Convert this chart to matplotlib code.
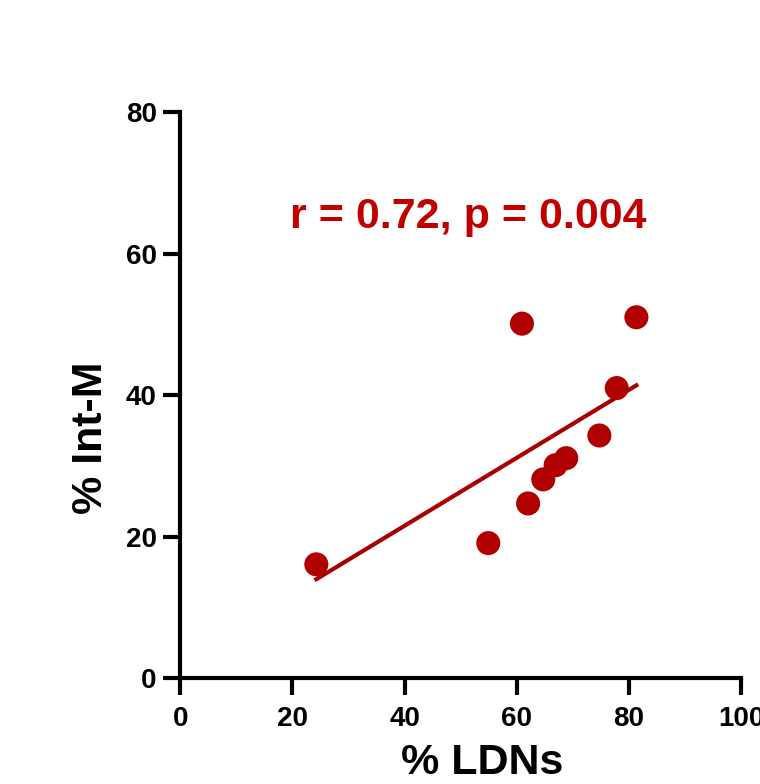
import matplotlib
matplotlib.use("Agg")
import matplotlib.pyplot as plt
import numpy as np

ldns = [24.25, 54.9, 60.9, 62.0, 64.7, 66.9, 68.8, 74.7, 77.8, 81.3]
int_m = [16.1, 19.1, 50.1, 24.7, 28.1, 30.1, 31.1, 34.3, 41.0, 51.0]
fit_slope = 0.48
fit_intercept = 2.36
x_ticks = [0, 20, 40, 60, 80, 100]
y_ticks = [0, 20, 40, 60, 80]
stats_text = "r = 0.72, p = 0.004"

plt.rcParams['font.family'] = ['Liberation Sans', 'DejaVu Sans']

fig = plt.figure(figsize=(7.6, 7.84), dpi=100)
ax = fig.add_axes([0.2372, 0.1348, 0.7382, 0.7224])

red = "#B00000"
ax.scatter(ldns, int_m, s=300, color=red, edgecolors='none', zorder=3)
xf = np.array([min(ldns), max(ldns)])
ax.plot(xf, fit_slope * xf + fit_intercept, color="#A80000", lw=3, zorder=2)

ax.set_xlim(0, 100)
ax.set_ylim(0, 80)
ax.set_xticks(x_ticks)
ax.set_yticks(y_ticks)
for s in ['top', 'right']:
    ax.spines[s].set_visible(False)
for s in ['left', 'bottom']:
    ax.spines[s].set_linewidth(3)
ax.tick_params(width=3, length=12, labelsize=20)
ax.tick_params(axis='y', pad=5)
ax.tick_params(axis='x', pad=8)
for lab in ax.get_xticklabels() + ax.get_yticklabels():
    lab.set_fontweight('bold')

ax.set_xlabel("% LDNs", fontsize=31, fontweight='bold', va='baseline')
ax.xaxis.set_label_coords(0.539, -0.1696)
ax.set_ylabel("% Int-M", fontsize=31, fontweight='bold', va='baseline')
ax.yaxis.set_label_coords(-0.139, 0.425)
ax.text(51.4, 63.6, stats_text, color="#C00000", fontsize=31, fontweight='bold',
        ha='center', va='baseline')

fig.savefig("out.png", dpi=100)
